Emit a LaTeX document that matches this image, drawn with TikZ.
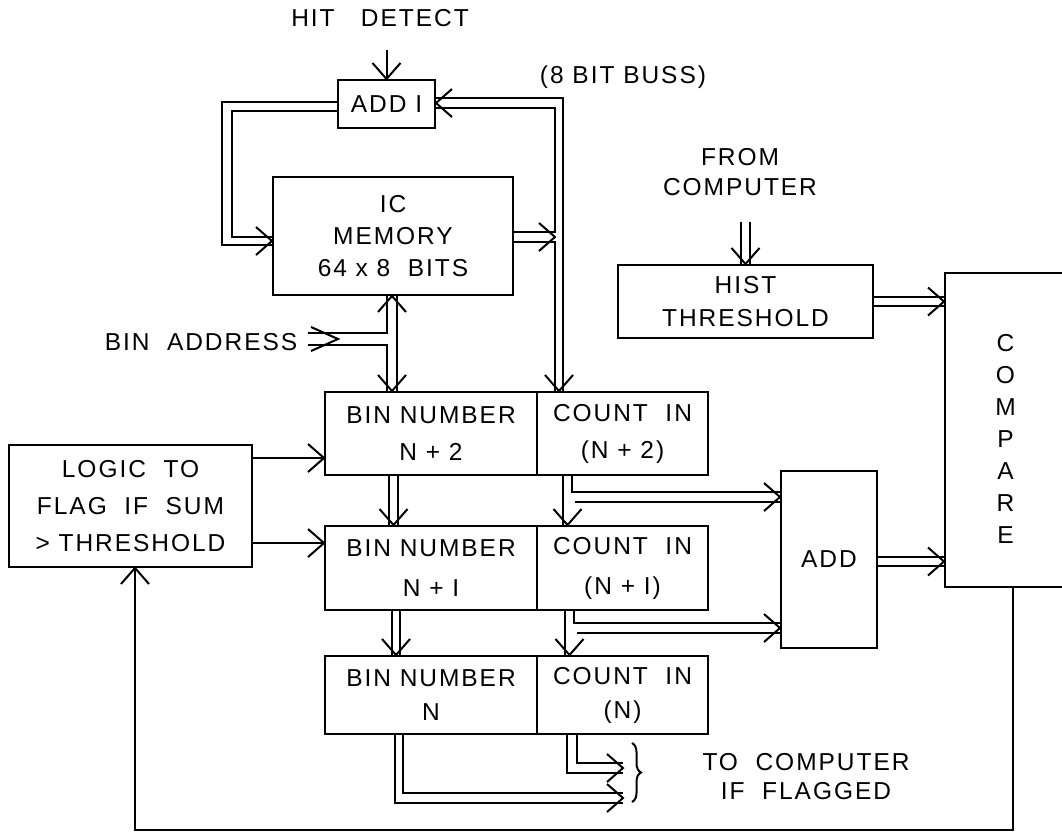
\documentclass[tikz,border=0pt]{standalone}
\usepackage{fontspec}
\setmainfont{Liberation Sans}[LetterSpace=8]
\usetikzlibrary{decorations.pathreplacing}
\begin{document}
\begin{tikzpicture}[x=1pt,y=-1pt, line width=2pt, line join=miter,
  every node/.style={font=\fontsize{24.5}{37}\selectfont, align=center, inner sep=0pt},
  box/.style={draw, line width=2pt},
  vh/.pic={\draw[line width=2pt] (-16,-14) -- (0,0) -- (-16,14);},
  vhlong/.pic={\draw[line width=2pt] (-27,-12) -- (0,0) -- (-27,12);},
]
\useasboundingbox (0,0) rectangle (1062,839);

% ---------- boxes ----------
\node[box, minimum width=97pt, minimum height=48pt] (add1) at (386.5,104) {ADD I};
\node[box, minimum width=240pt, minimum height=118pt, font=\fontsize{24.5}{32}\selectfont] (mem) at (393,236) {IC\\MEMORY\\64 x 8\ \ BITS};
\node[box, minimum width=255pt, minimum height=73pt, font=\fontsize{24.5}{33}\selectfont] (hist) at (745.5,301.5) {HIST\\THRESHOLD};
\node[box, minimum width=121pt, minimum height=314pt,
  label={[name=cmptext, yshift=-9pt, font=\fontsize{24.5}{32}\selectfont, align=center]center:C\\O\\M\\P\\A\\R\\E}] (cmp) at (1005.5,430) {};
\node[box, minimum width=96pt, minimum height=177pt] (add) at (829,559.5) {ADD};
\node[box, minimum width=243pt, minimum height=122pt] (logic) at (130.5,506) {LOGIC\ \ TO\\FLAG\ \ IF\ \ SUM\\> THRESHOLD};

\node[box, minimum width=212pt, minimum height=83pt] (b2) at (431,433.5) {BIN NUMBER\\N + 2};
\node[box, minimum width=171pt, minimum height=83pt] (c2) at (622.5,433.5) {COUNT\ \ IN\\(N + 2)};
\node[box, minimum width=212pt, minimum height=84pt, font=\fontsize{24.5}{40}\selectfont] (b1) at (431,568) {BIN NUMBER\\N + I};
\node[box, minimum width=171pt, minimum height=84pt, font=\fontsize{24.5}{40}\selectfont] (c1) at (622.5,568) {COUNT\ \ IN\\(N + I)};
\node[box, minimum width=212pt, minimum height=78pt, font=\fontsize{24.5}{34}\selectfont] (b0) at (431,695) {BIN NUMBER\\N};
\node[box, minimum width=171pt, minimum height=78pt, font=\fontsize{24.5}{34}\selectfont] (c0) at (622.5,695) {COUNT\ \ IN\\(N)};

% ---------- labels ----------
\node (hit) at (380,18) {HIT\ \ \ DETECT};
\node (buss) at (623,77) {(8 BIT BUSS)};
\node[font=\fontsize{24.5}{30}\selectfont] (from) at (740,172) {FROM\\COMPUTER};
\node (binaddr) at (201,342) {BIN\ \ ADDRESS};
\node[font=\fontsize{24.5}{29}\selectfont] (tocomp) at (806,777) {TO\ \ COMPUTER\\IF\ \ FLAGGED};

% ---------- hit detect ----------
\draw (add1.north |- 0,50) -- (add1.north);
\pic[rotate=-90] at (add1.north) {vh};

% ---------- left loop: ADD I -> memory ----------
\draw (add1.west |- 0,102) -- (222,102) -- (222,245) -- (mem.west |- 0,245);
\draw (add1.west |- 0,111) -- (232,111) -- (232,237) -- (mem.west |- 0,237);
\pic at (mem.west |- 0,241) {vh};

% ---------- right loop: 8 bit buss ----------
\draw (add1.east |- 0,98) -- (563,98) -- (563,0 |- c2.north);
\draw (add1.east |- 0,108) -- (555,108) -- (555,232) -- (mem.east |- 0,232);
\draw (mem.east |- 0,242) -- (555,242) -- (555,0 |- c2.north);
\pic at (555,237) {vh};
\pic[rotate=180] at (add1.east |- 0,103) {vh};
\pic[rotate=-90] at (559,0 |- c2.north) {vh};

% ---------- memory <-> bin number, bin address ----------
\draw (387,0 |- mem.south) -- (387,333) -- (308,333);
\draw (308,345) -- (387,345) -- (387,0 |- b2.north);
\draw (397,0 |- mem.south) -- (397,0 |- b2.north);
\pic[rotate=90] at (392,0 |- mem.south) {vh};
\pic[rotate=-90] at (392,0 |- b2.north) {vh};
\pic at (338,339) {vhlong};

% ---------- bin number chain ----------
\draw (389,0 |- b2.south) -- (389,0 |- b1.north);
\draw (398,0 |- b2.south) -- (398,0 |- b1.north);
\pic[rotate=-90] at (393.5,0 |- b1.north) {vh};
\draw (392,0 |- b1.south) -- (392,0 |- b0.north);
\draw (400,0 |- b1.south) -- (400,0 |- b0.north);
\pic[rotate=-90] at (396,0 |- b0.north) {vh};

% ---------- count chain and ADD inputs ----------
\draw (563,0 |- c2.south) -- (563,0 |- c1.north);
\draw (572,0 |- c2.south) -- (572,492) -- (add.west |- 0,492);
\draw (575,502) -- (add.west |- 0,502);
\pic[rotate=-90] at (567.5,0 |- c1.north) {vh};
\pic at (add.west |- 0,497) {vh};

\draw (565,0 |- c1.south) -- (565,0 |- c0.north);
\draw (574,0 |- c1.south) -- (574,623) -- (add.west |- 0,623);
\draw (577,633) -- (add.west |- 0,633);
\pic[rotate=-90] at (569.5,0 |- c0.north) {vh};
\pic at (add.west |- 0,628) {vh};

% ---------- to compare ----------
\draw (add.east |- 0,557) -- (cmp.west |- 0,557);
\draw (add.east |- 0,566) -- (cmp.west |- 0,566);
\pic at (cmp.west |- 0,561.5) {vh};
\draw (hist.east |- 0,297) -- (cmp.west |- 0,297);
\draw (hist.east |- 0,306) -- (cmp.west |- 0,306);
\pic at (cmp.west |- 0,301.5) {vh};

% ---------- from computer ----------
\draw (741,222) -- (741,0 |- hist.north);
\draw (750,222) -- (750,0 |- hist.north);
\pic[rotate=-90] at (745.5,0 |- hist.north) {vh};

% ---------- outputs to computer ----------
\coordinate (o1) at (623,768);
\coordinate (o2) at (623,798);
\draw (567,0 |- c0.south) -- (567,773) -- (o1 |- 0,773);
\draw (577,0 |- c0.south) -- (577,763) -- (o1 |- 0,763);
\pic at (o1) {vh};
\draw (395,0 |- b0.south) -- (395,803) -- (o2 |- 0,803);
\draw (403,0 |- b0.south) -- (403,793) -- (o2 |- 0,793);
\pic at (o2) {vh};
\draw[decorate, decoration={brace, amplitude=9pt}, line width=2pt] (632,743) -- (632,802);

% ---------- logic ----------
\draw (logic.east |- 0,458) -- (b2.west |- 0,458);
\pic at (b2.west |- 0,458) {vh};
\draw (logic.east |- 0,543) -- (b1.west |- 0,543);
\pic at (b1.west |- 0,543) {vh};
\draw (1013,0 |- cmp.south) -- (1013,830) -- (135,830) -- (135,0 |- logic.south);
\pic[rotate=90] at (135,0 |- logic.south) {vh};
\end{tikzpicture}
\end{document}
